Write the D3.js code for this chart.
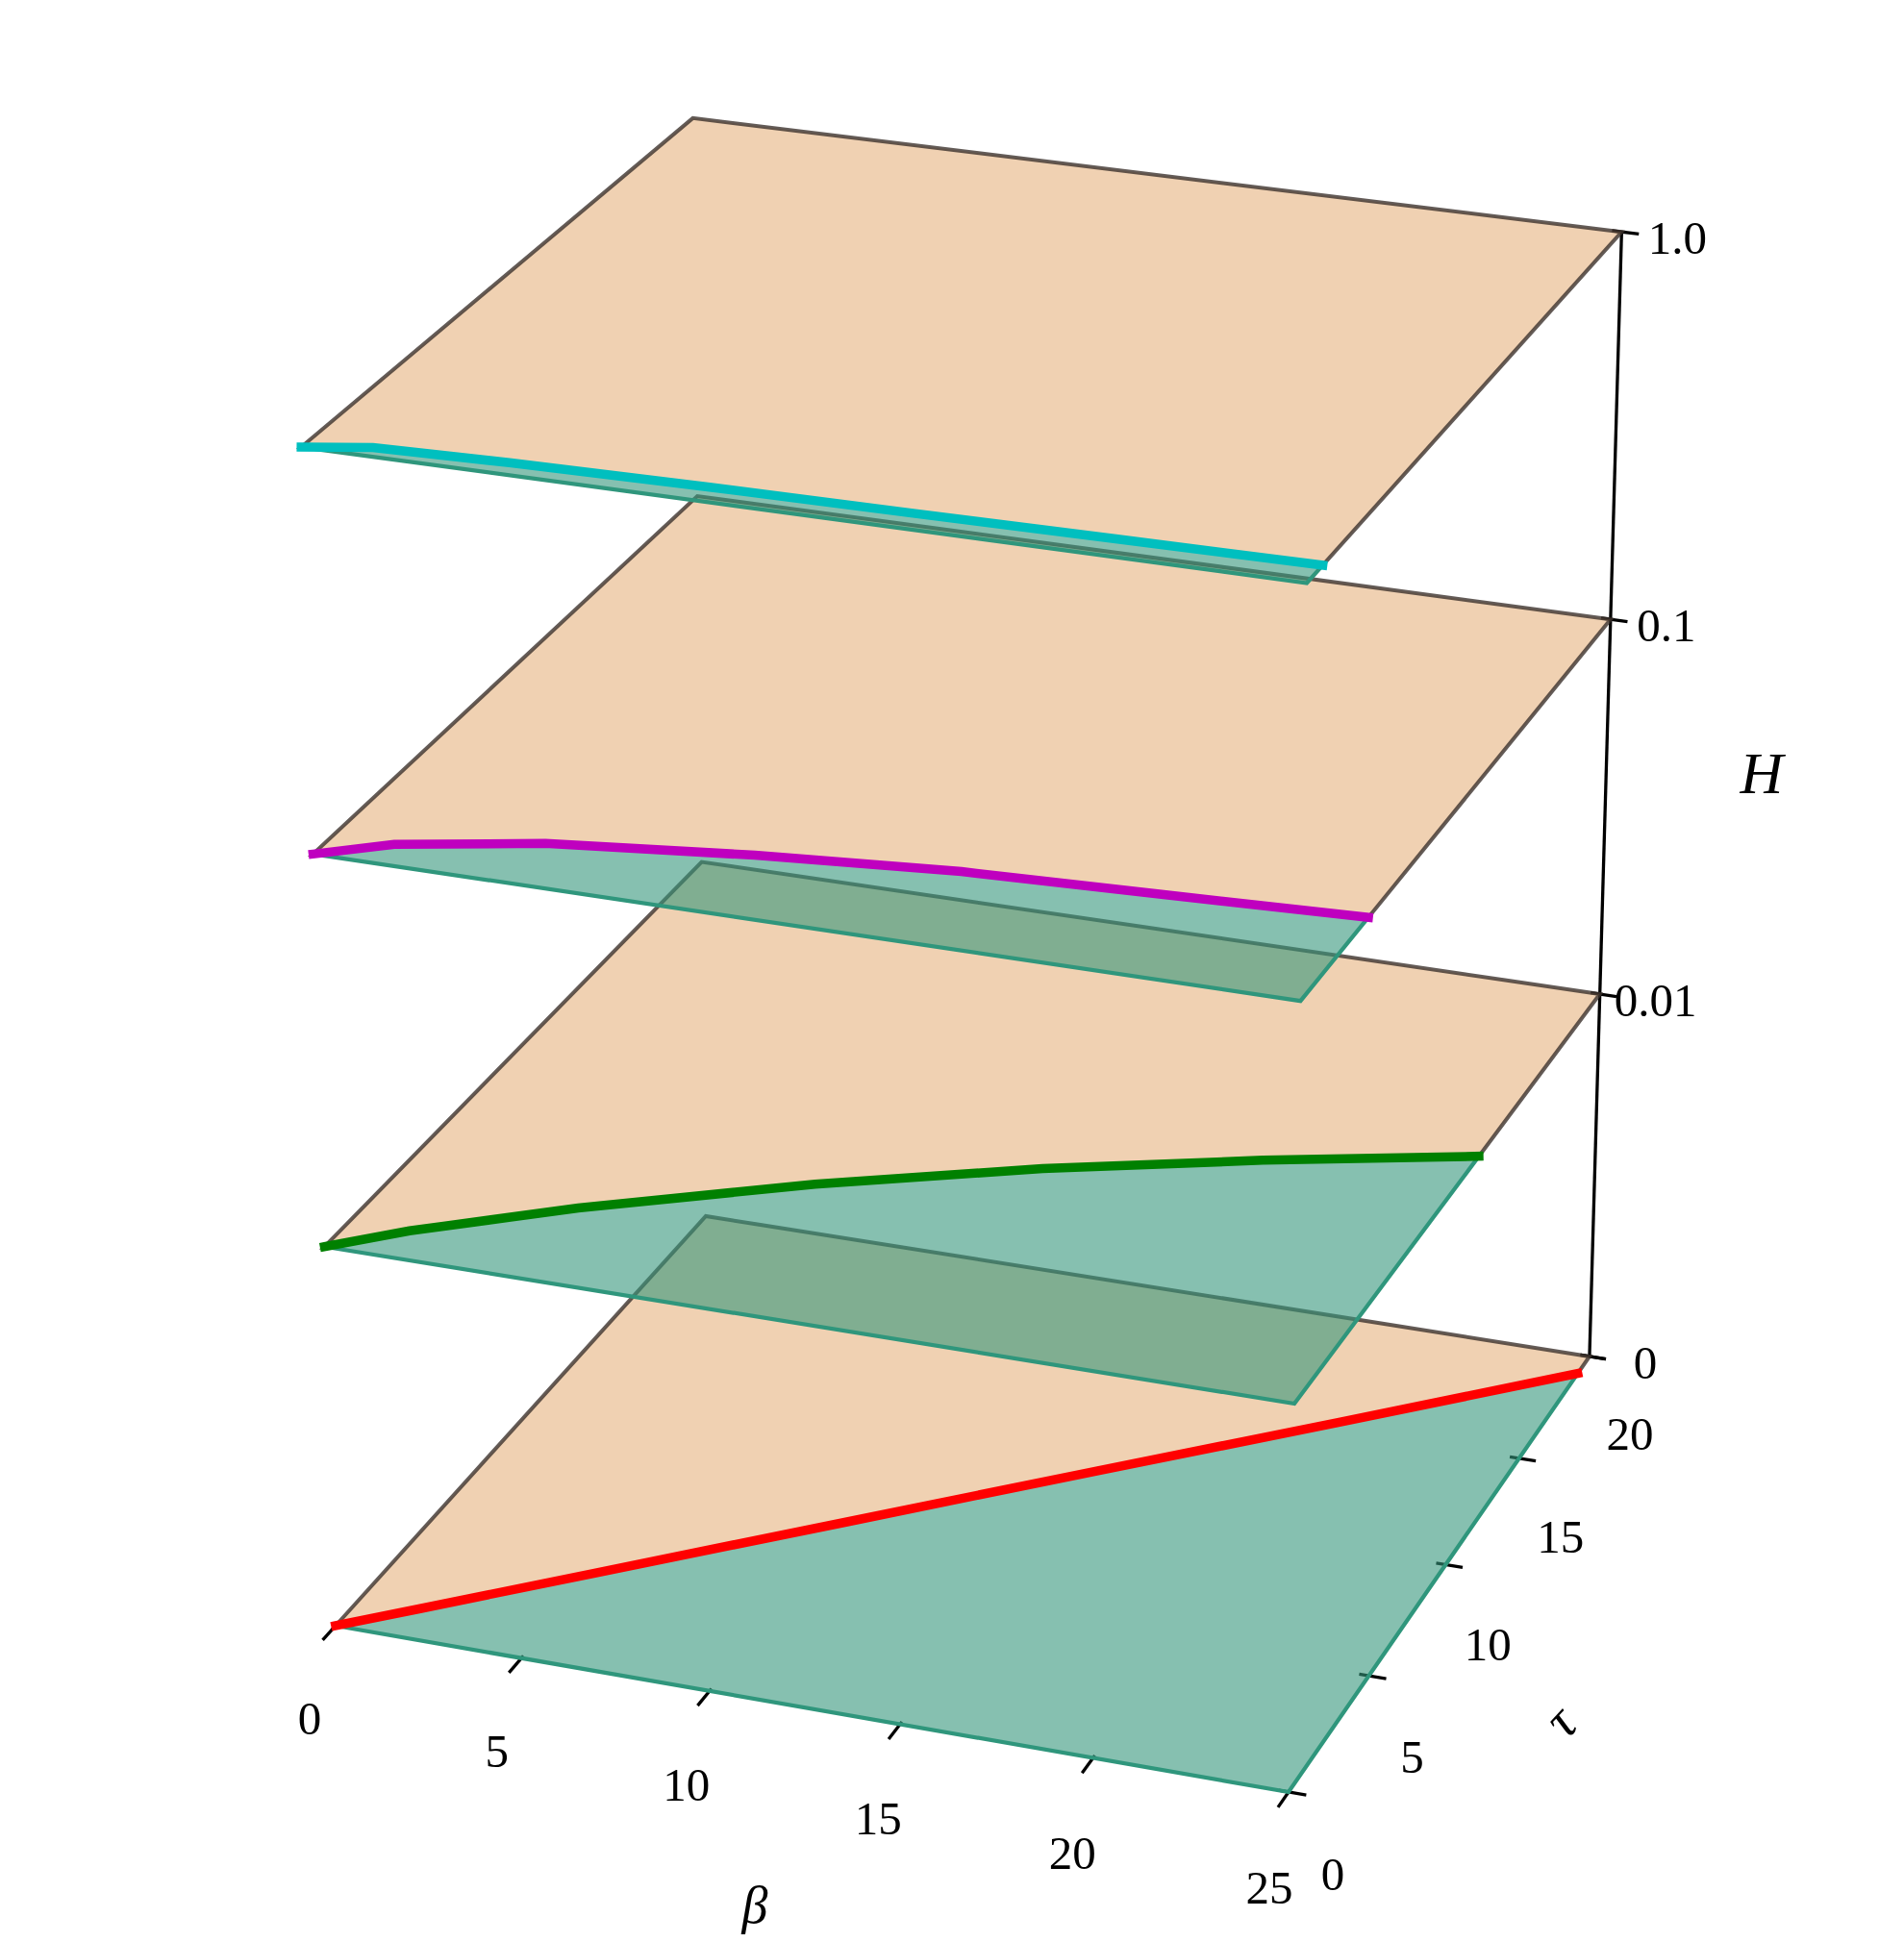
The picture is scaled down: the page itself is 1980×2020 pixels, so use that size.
<!DOCTYPE html>
<html>
<head>
  <style>
    body { margin: 0; background: white; }
    text { font-family: "Liberation Serif", serif; fill: black; }
  </style>
</head>
<body>
  <script src="https://d3js.org/d3.v7.min.js"></script>
  <script>
    const betaTicks = [0, 5, 10, 15, 20, 25];
    const tauTicks = [0, 5, 10, 15, 20];
    const levels = ['0', '0.01', '0.1', '1.0'];

    // where the separating curve sits on each plane
    const betaSamples = [0, 1.6, 5, 10, 15, 20, 25];
    const tauRed = [0, 1.22, 3.83, 7.66, 11.5, 15.3, 19.15];
    const tauGreen = [0, 1.22, 3.31, 5.92, 8.14, 10, 11.65];
    const tauMagenta = [0, 0.96, 2.0, 2.85, 3.47, 3.76, 4.08];
    const tauCyan = [0, 0.44, 0.6, 0.72, 0.78, 0.86, 0.93];
    const curves = [tauRed, tauGreen, tauMagenta, tauCyan];
    const curveColors = ['#ff0000', '#008000', '#bf00bf', '#00bfbf'];

    const width = 1980;
    const height = 2020;

    const uScale = d3.scaleLinear().domain([0, 25]).range([0, 1]);
    const vScale = d3.scaleLinear().domain([0, 20]).range([0, 1]);
    const wScale = d3.scalePoint().domain(levels).range([0, 1]);

    // camera fitted to the corners of the four planes
    function project(u, v, w) {
      const d = 1 - 0.03095 * u + 0.08889 * v - 0.0518 * w;
      return [
        (949.5 * u + 450.2 * v - 52 * w + 349) / d,
        (115.3 * u - 313.6 * v - 1250 * w + 1691) / d
      ];
    }
    const at = (beta, tau, level) => project(uScale(beta), vScale(tau), wScale(level));

    const line = d3.line();

    const svg = d3.select('body')
      .append('svg')
      .attr('width', width)
      .attr('height', height)
      .style('display', 'block');

    // Axes
    const axes = svg.append('g')
      .attr('fill', 'none')
      .attr('stroke', 'black')
      .attr('stroke-width', 3.3);

    axes.append('path')
      .attr('d', line([project(1, 1, 0), project(1, 1, 1)]));

    axes.selectAll('.z-tick')
      .data(levels)
      .join('path')
      .attr('class', 'z-tick')
      .attr('d', l => line([project(0.99, 1, wScale(l)), project(1.018, 1, wScale(l))]));

    axes.selectAll('.beta-tick')
      .data(betaTicks)
      .join('path')
      .attr('class', 'beta-tick')
      .attr('d', b => line([project(uScale(b), 0.005, 0), project(uScale(b), -0.032, 0)]));

    axes.selectAll('.tau-tick')
      .data(tauTicks)
      .join('path')
      .attr('class', 'tau-tick')
      .attr('d', t => line([project(0.99, vScale(t), 0), project(1.018, vScale(t), 0)]));

    // Planes, lowest first so the teal of a higher plane lies over the one below
    levels.forEach((level, i) => {
      const curve = betaSamples.map((b, k) => at(b, curves[i][k], level));

      const upper = curve.concat([at(25, 20, level), at(0, 20, level)]);
      const lower = curve.concat([at(25, 0, level)]);

      const plane = svg.append('g').attr('stroke-linejoin', 'miter');

      plane.append('path')
        .attr('d', line(upper) + 'Z')
        .attr('fill', '#e1a365')
        .attr('fill-opacity', 0.5)
        .attr('stroke', 'rgba(60,50,45,0.8)')
        .attr('stroke-width', 4);

      plane.append('path')
        .attr('d', line(lower) + 'Z')
        .attr('fill', '#35967b')
        .attr('fill-opacity', 0.6)
        .attr('stroke', '#2f967c')
        .attr('stroke-width', 4.2);

      plane.append('path')
        .attr('d', line(curve))
        .attr('fill', 'none')
        .attr('stroke', curveColors[i])
        .attr('stroke-width', 9.5)
        .attr('stroke-linecap', 'square');
    });

    // Tick labels
    svg.selectAll('.beta-label')
      .data(betaTicks)
      .join('text')
      .attr('class', 'beta-label')
      .attr('font-size', 49)
      .attr('text-anchor', 'middle')
      .attr('x', b => at(b, 0, '0')[0] - 27 + 7 * uScale(b))
      .attr('y', b => at(b, 0, '0')[1] + 97 + 3 * uScale(b) + 16)
      .text(b => b);

    svg.selectAll('.tau-label')
      .data(tauTicks)
      .join('text')
      .attr('class', 'tau-label')
      .attr('font-size', 49)
      .attr('text-anchor', 'middle')
      .attr('x', t => at(25, t, '0')[0] + 46 - 4 * vScale(t))
      .attr('y', t => at(25, t, '0')[1] + 86 - 5 * vScale(t) + 16)
      .text(t => t);

    svg.selectAll('.level-label')
      .data(levels)
      .join('text')
      .attr('class', 'level-label')
      .attr('font-size', 49)
      .attr('text-anchor', 'middle')
      .attr('x', l => at(25, 20, l)[0] + 58)
      .attr('y', l => at(25, 20, l)[1] + 7 + 16)
      .text(l => l);

    // Axis titles
    svg.append('text')
      .attr('font-size', 54)
      .attr('font-style', 'italic')
      .attr('text-anchor', 'middle')
      .attr('x', 785)
      .attr('y', 2000)
      .text('β');

    svg.append('text')
      .attr('font-size', 56)
      .attr('font-style', 'italic')
      .attr('text-anchor', 'middle')
      .attr('transform', 'translate(1627,1795) rotate(-47)')
      .attr('y', 12)
      .text('τ');

    svg.append('text')
      .attr('font-size', 62)
      .attr('font-style', 'italic')
      .attr('text-anchor', 'middle')
      .attr('x', 1832)
      .attr('y', 825)
      .text('H');
  </script>
</body>
</html>
